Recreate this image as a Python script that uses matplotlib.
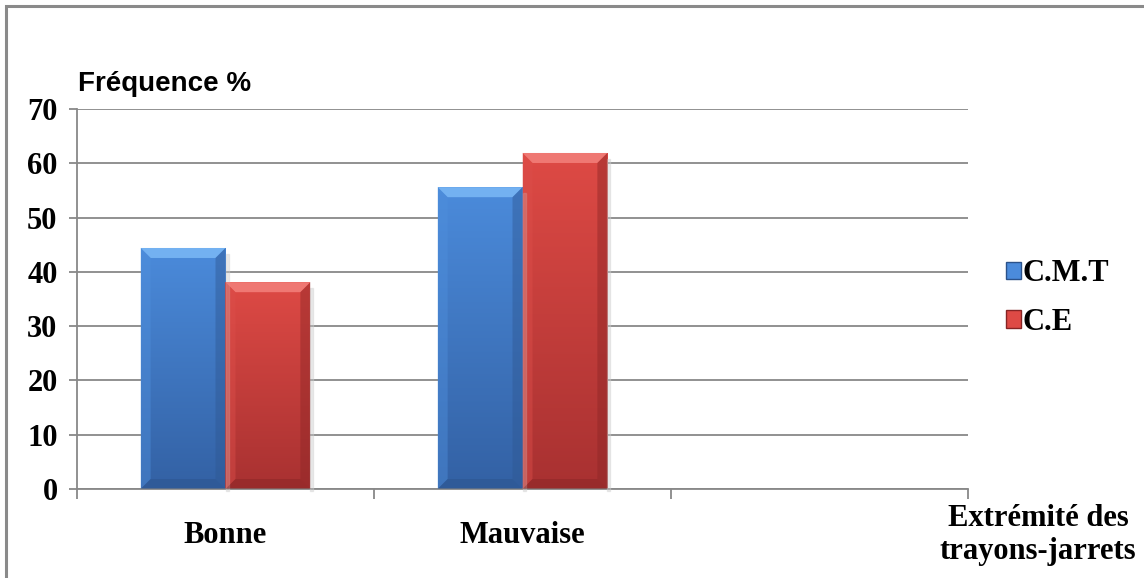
import matplotlib.pyplot as plt
import numpy as np
from matplotlib.patches import Polygon, Rectangle
from matplotlib.colors import LinearSegmentedColormap
from matplotlib.transforms import IdentityTransform

# fréquence (%) par état de l'extrémité des trayons
categories = ['Bonne', 'Mauvaise']
series = ['C.M.T', 'C.E']
cmt = [44.4, 55.6]
ce = [38.1, 61.9]
yticks = [0, 10, 20, 30, 40, 50, 60, 70]

# couleurs : corps (haut, bas), biseau haut, gauche, droite, bas
styles = {
    'C.M.T': dict(top='#4b8bdb', bottom='#3361a4', bev_top='#78b6f4',
                  bev_left='#4f8fdc', bev_right='#2f5893', bev_bottom='#2b528a'),
    'C.E': dict(top='#de4a45', bottom='#a83131', bev_top='#f27e79',
                bev_left='#dc4e4a', bev_right='#8c2626', bev_bottom='#862424'),
}

serif = 'Liberation Serif'
sans = 'Liberation Sans'
fs = 22

fig = plt.figure(figsize=(11.44, 5.78), dpi=100)
ax = fig.add_axes([77 / 1144, 89 / 578, 891 / 1144, 380 / 578])

n_slots = 3
w = 1 / 3.5
x = np.arange(len(categories)) + 0.5

bars = {}
bars['C.M.T'] = ax.bar(x - w / 2, cmt, w, color='none', zorder=3, label='C.M.T')
bars['C.E'] = ax.bar(x + w / 2, ce, w, color='none', zorder=3, label='C.E')

# dégradé vertical dans chaque barre
grad = np.linspace(1, 0, 256).reshape(-1, 1)
for name, bc in bars.items():
    st = styles[name]
    cmap = LinearSegmentedColormap.from_list(name, [st['bottom'], st['top']])
    for p in bc:
        x0, h = p.get_x(), p.get_height()
        im = ax.imshow(grad, extent=[x0, x0 + p.get_width(), 0, h], aspect='auto',
                       cmap=cmap, vmin=0, vmax=1, zorder=2.5, interpolation='bicubic')
        im.set_clip_path(p)

ax.set_xlim(0, n_slots)
ax.set_ylim(0, 70)
ax.set_yticks(yticks)
ax.set_xticks(np.arange(n_slots + 1))
ax.set_xticklabels([])
ax.tick_params(axis='y', direction='out', length=6, width=1.3, color='#888888',
               labelsize=fs, pad=8)
ax.tick_params(axis='x', direction='out', length=7, width=1.3, color='#888888')
for lab in ax.get_yticklabels():
    lab.set_fontfamily(serif)
    lab.set_fontweight('bold')

ax.grid(axis='y', color='#888888', linewidth=1.3, zorder=0)
ax.set_axisbelow(True)
for s in ['top', 'right']:
    ax.spines[s].set_visible(False)
for s in ['left', 'bottom']:
    ax.spines[s].set_color('#888888')
    ax.spines[s].set_linewidth(1.3)

# libellés des catégories
for xi, cat in zip(x, categories):
    ax.text(xi, -8.5, cat, ha='center', va='center', fontsize=fs,
            fontfamily=serif, fontweight='bold')

fig.text(1038 / 1144, 1 - 535 / 578, 'Extrémité des\ntrayons-jarrets', ha='center',
         va='center', fontsize=fs, fontfamily=serif, fontweight='bold', linespacing=1.15)
fig.text(78 / 1144, 1 - 84 / 578, 'Fréquence %', ha='left', va='center', fontsize=20,
         fontfamily=sans, fontweight='bold')

leg = ax.legend(handles=[bars['C.M.T'], bars['C.E']], labels=series,
                loc='center left', bbox_to_anchor=(978 / 1144, 1 - 298 / 578),
                bbox_transform=fig.transFigure, frameon=False,
                prop=dict(family=serif, weight='bold', size=fs),
                handlelength=0.5, handleheight=0.5, handletextpad=0.05, labelspacing=0.65)
for h, name in zip(leg.legend_handles, series):
    h.set_facecolor(styles[name]['top'])
    h.set_edgecolor(styles[name]['bev_bottom'])

# cadre extérieur
fig.add_artist(Rectangle((6 / 1144, -0.1), 1.2, 1 - 6 / 578 + 0.1, transform=fig.transFigure,
                         fill=False, edgecolor='#8a8a8a', linewidth=2.2))

# biseaux des barres, en pixels
fig.canvas.draw()
b = 10
for name, bc in bars.items():
    st = styles[name]
    for p in bc:
        bb = p.get_window_extent()
        l, r, bo, t = bb.x0, bb.x1, bb.y0, bb.y1
        # ombre légère
        fig.add_artist(Rectangle((r, bo - 2), 3, t - bo - 4, transform=IdentityTransform(),
                                 color='#cccccc', alpha=0.4, zorder=2))
        faces = [
            ([(l, t), (r, t), (r - b, t - b), (l + b, t - b)], st['bev_top']),
            ([(l, t), (l + b, t - b), (l + b, bo + b), (l, bo)], st['bev_left']),
            ([(r, t), (r - b, t - b), (r - b, bo + b), (r, bo)], st['bev_right']),
            ([(l, bo), (l + b, bo + b), (r - b, bo + b), (r, bo)], st['bev_bottom']),
        ]
        for pts, c in faces:
            alpha = 0.9 if c == st['bev_top'] else 0.45
            fig.add_artist(Polygon(pts, closed=True, transform=IdentityTransform(),
                                   facecolor=c, edgecolor='none', alpha=alpha, zorder=4))

fig.savefig('out.png', dpi=100)
